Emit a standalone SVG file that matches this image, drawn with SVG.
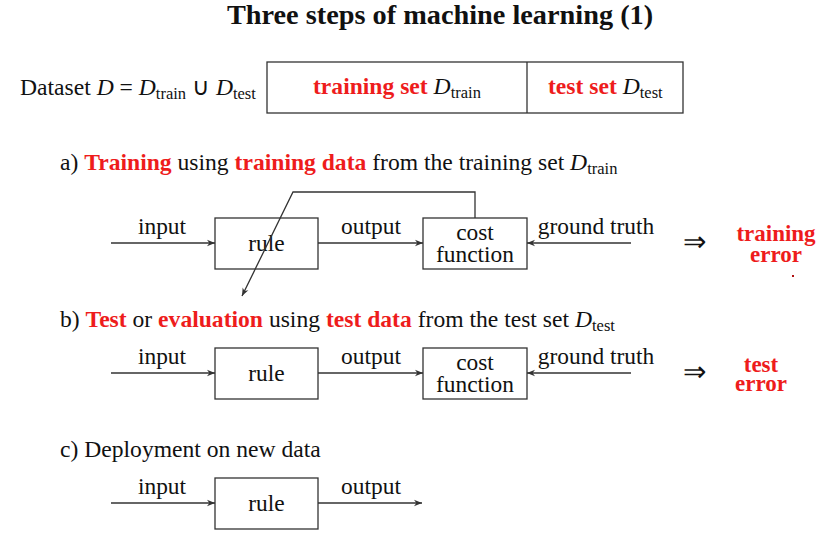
<svg xmlns="http://www.w3.org/2000/svg" width="833" height="537" viewBox="0 0 833 537">
  <style>
    text { font-family: "Liberation Serif", "Times New Roman", serif; fill: #111; }
    .t { font-size: 23.6px; }
    .title { font-size: 28.3px; font-weight: bold; }
    .red { fill: #ee1c1c; font-weight: bold; }
    .it { font-style: italic; }
    .sub { font-size: 16.5px; }
    .box { fill: #fff; stroke: #333; stroke-width: 1.3; }
    .wire { fill: none; stroke: #333; stroke-width: 1.3; }
    .lbl { font-size: 23.4px; text-anchor: middle; }
    .err { font-size: 23px; text-anchor: middle; fill: #ee1c1c; font-weight: bold; }
    .imp { font-size: 28px; text-anchor: middle; }
  </style>
  <defs>
    <marker id="ah" viewBox="0 0 10 10" refX="10" refY="5" markerWidth="8" markerHeight="8" markerUnits="userSpaceOnUse" orient="auto">
      <path d="M0,1 L10,5 L0,9 L3,5 Z" fill="#333"/>
    </marker>
  </defs>
  <rect width="833" height="537" fill="#fff"/>

  <text class="title" x="440" y="24" text-anchor="middle">Three steps of machine learning (1)</text>

  <!-- dataset split -->
  <g id="dataset">
    <text class="t" x="20" y="95">Dataset <tspan class="it">D</tspan> = <tspan class="it">D</tspan><tspan class="sub" dy="4">train</tspan><tspan dy="-4"> ∪ </tspan><tspan class="it">D</tspan><tspan class="sub" dy="4">test</tspan></text>
    <rect class="box" x="267" y="62" width="416" height="51"/>
    <line class="wire" x1="527" y1="62" x2="527" y2="113"/>
    <text class="t" x="313" y="94"><tspan class="red">training set </tspan><tspan class="it">D</tspan><tspan class="sub" dy="4">train</tspan></text>
    <text class="t" x="548" y="94"><tspan class="red">test set </tspan><tspan class="it">D</tspan><tspan class="sub" dy="4">test</tspan></text>
  </g>

  <!-- a) training -->
  <text class="t" x="60" y="170">a) <tspan class="red">Training</tspan> using <tspan class="red">training data</tspan> from the training set <tspan class="it">D</tspan><tspan class="sub" dy="4">train</tspan></text>
  <g id="rule-a">
    <rect class="box" x="215" y="218" width="103" height="51"/>
    <text class="lbl" x="266.5" y="251">rule</text>
  </g>
  <g id="cost-a">
    <rect class="box" x="423" y="218" width="104" height="51"/>
    <text class="lbl" x="475" y="240">cost</text>
    <text class="lbl" x="475" y="262">function</text>
  </g>
  <g id="result-a">
    <text class="imp" x="694" y="251">⇒</text>
    <text class="err" x="776" y="241">training</text>
    <text class="err" x="776" y="262">error</text>
    <rect x="792" y="275" width="2" height="2" fill="#b01010"/>
  </g>

  <!-- b) test -->
  <text class="t" x="60" y="327">b) <tspan class="red">Test</tspan> or <tspan class="red">evaluation</tspan> using <tspan class="red">test data</tspan> from the test set <tspan class="it">D</tspan><tspan class="sub" dy="4">test</tspan></text>
  <g id="rule-b">
    <rect class="box" x="215" y="348" width="103" height="51"/>
    <text class="lbl" x="266.5" y="381">rule</text>
  </g>
  <g id="cost-b">
    <rect class="box" x="423" y="348" width="104" height="51"/>
    <text class="lbl" x="475" y="370">cost</text>
    <text class="lbl" x="475" y="392">function</text>
  </g>
  <g id="result-b">
    <text class="imp" x="694" y="381">⇒</text>
    <text class="err" x="761" y="372">test</text>
    <text class="err" x="761" y="391">error</text>
  </g>

  <!-- c) deployment -->
  <text class="t" x="60" y="457">c) Deployment on new data</text>
  <g id="rule-c">
    <rect class="box" x="215" y="478" width="103" height="51"/>
    <text class="lbl" x="266.5" y="511">rule</text>
  </g>

  <!-- connectors and their labels -->
  <g id="connectors">
    <line class="wire" x1="111" y1="243" x2="215" y2="243" marker-end="url(#ah)"/>
    <line class="wire" x1="318" y1="243" x2="423" y2="243" marker-end="url(#ah)"/>
    <line class="wire" x1="631" y1="243" x2="527" y2="243" marker-end="url(#ah)"/>
    <polyline class="wire" points="475,218 475,192 293,192 242,296" marker-end="url(#ah)"/>
    <text class="lbl" x="162" y="234">input</text>
    <text class="lbl" x="371" y="234">output</text>
    <text class="lbl" x="596" y="234">ground truth</text>

    <line class="wire" x1="111" y1="373" x2="215" y2="373" marker-end="url(#ah)"/>
    <line class="wire" x1="318" y1="373" x2="423" y2="373" marker-end="url(#ah)"/>
    <line class="wire" x1="631" y1="373" x2="527" y2="373" marker-end="url(#ah)"/>
    <text class="lbl" x="162" y="364">input</text>
    <text class="lbl" x="371" y="364">output</text>
    <text class="lbl" x="596" y="364">ground truth</text>

    <line class="wire" x1="111" y1="503" x2="215" y2="503" marker-end="url(#ah)"/>
    <line class="wire" x1="318" y1="503" x2="422" y2="503" marker-end="url(#ah)"/>
    <text class="lbl" x="162" y="494">input</text>
    <text class="lbl" x="371" y="494">output</text>
  </g>
</svg>
